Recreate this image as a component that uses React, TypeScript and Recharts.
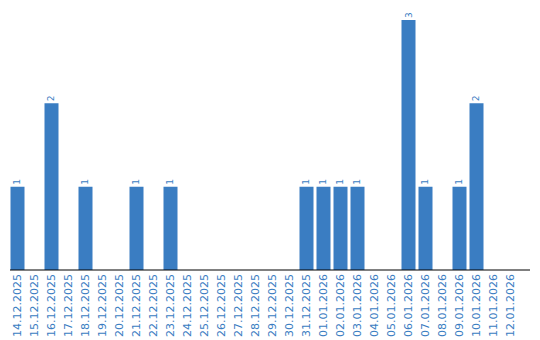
import React from 'react';
import { BarChart, Bar, XAxis, YAxis, LabelList } from 'recharts';

const dates = [
  '14.12.2025', '15.12.2025', '16.12.2025', '17.12.2025', '18.12.2025', '19.12.2025',
  '20.12.2025', '21.12.2025', '22.12.2025', '23.12.2025', '24.12.2025', '25.12.2025',
  '26.12.2025', '27.12.2025', '28.12.2025', '29.12.2025', '30.12.2025', '31.12.2025',
  '01.01.2026', '02.01.2026', '03.01.2026', '04.01.2026', '05.01.2026', '06.01.2026',
  '07.01.2026', '08.01.2026', '09.01.2026', '10.01.2026', '11.01.2026', '12.01.2026',
];
const counts = [1, 0, 2, 0, 1, 0, 0, 1, 0, 1, 0, 0, 0, 0, 0, 0, 0, 1, 1, 1, 1, 0, 0, 3, 1, 0, 1, 2, 0, 0];

const data = dates.map((d, i) => ({ date: d, count: counts[i] }));

const BLUE = '#3a7dc2';
const FONT = 'DejaVu Sans, Verdana, sans-serif';

const XTick = (props: any) => {
  const { x, y, payload } = props;
  return (
    <text
      x={x}
      y={y}
      transform={`rotate(-90, ${x}, ${y})`}
      textAnchor="end"
      dominantBaseline="central"
      fill={BLUE}
      fontSize={11}
      fontFamily={FONT}
    >
      {payload.value}
    </text>
  );
};

const ValueLabel = (props: any) => {
  const { x, y, width, value } = props;
  if (!value) return null;
  const cx = x + width / 2;
  const cy = y - 2;
  return (
    <text
      x={cx}
      y={cy}
      transform={`rotate(-90, ${cx}, ${cy})`}
      textAnchor="start"
      dominantBaseline="central"
      fill={BLUE}
      fontSize={9}
      fontFamily={FONT}
    >
      {value}
    </text>
  );
};

export default function App() {
  return (
    <div style={{ position: 'absolute', left: 0, top: 0, width: 540, height: 340, background: '#fff' }}>
      <BarChart width={540} height={340} data={data} margin={{ top: 10, right: 10, bottom: 0, left: 10 }}>
        <XAxis
          dataKey="date"
          interval={0}
          height={70}
          tickLine={false}
          tickSize={0}
          tickMargin={4}
          axisLine={{ stroke: '#000' }}
          padding={{ left: -1.5, right: 11.5 }}
          tick={<XTick />}
        />
        <YAxis width={0} domain={[0, 3.12]} tick={false} tickLine={false} axisLine={{ stroke: '#000' }} />
        <Bar dataKey="count" fill={BLUE} barSize={14} isAnimationActive={false}>
          <LabelList dataKey="count" content={<ValueLabel />} />
        </Bar>
      </BarChart>
    </div>
  );
}
